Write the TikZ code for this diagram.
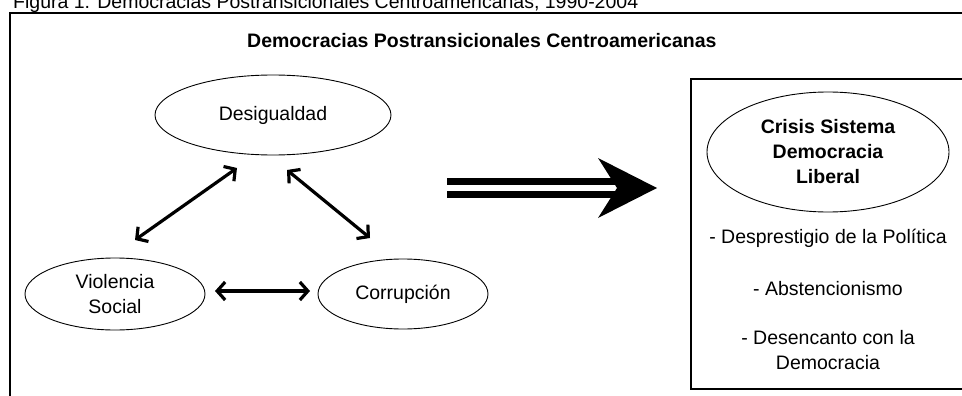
\documentclass[tikz,border=0pt]{standalone}
\usepackage{fontspec}
\setmainfont{Liberation Sans}
\usetikzlibrary{arrows.meta,shapes.geometric}
\begin{document}
\begin{tikzpicture}[x=1pt,y=-1pt,
  lbl/.style={font=\fontsize{19.5}{25}\selectfont,align=center,inner sep=0pt},
  ell/.style={draw,ellipse,line width=0.9pt,inner sep=0pt,lbl},
  dblarrow/.style={line width=3.2pt,{Straight Barb[length=8pt,width=18pt]}-{Straight Barb[length=8pt,width=18pt]}},
  frame/.style={line width=1.4pt}]
\useasboundingbox (0,0) rectangle (962,396);
\clip (0,0) rectangle (962,396);
% caption (cut at the top)
\node[lbl,anchor=base west] (cap) at (13,8.5) {Figura 1. Democracias Postransicionales Centroamericanas, 1990-2004};
% outer frame
\draw[frame] (10,400) -- (10,13) -- (970,13);
% title
\node[lbl,font=\fontsize{19.5}{25}\selectfont\bfseries,anchor=base west] (title) at (247,47.5) {Democracias Postransicionales Centroamericanas};
% ellipses
\node[ell,minimum width=236pt,minimum height=80pt] (des) at (273,115) {Desigualdad};
\node[ell,minimum width=180pt,minimum height=72pt] (vio) at (115,294) {Violencia\\Social};
\node[ell,minimum width=170pt,minimum height=70pt] (cor) at (403,294) {Corrupción};
% double arrows
\coordinate (a1s) at (135,240); \coordinate (a1e) at (237,168);
\coordinate (a2s) at (287,170); \coordinate (a2e) at (370,238);
\coordinate (a3s) at (215,291); \coordinate (a3e) at (310,291);
\draw[dblarrow] (a1s) -- (a1e);
\draw[dblarrow] (a2s) -- (a2e);
\draw[dblarrow] (a3s) -- (a3e);
% big arrow
\coordinate (bs) at (447,188); \coordinate (be) at (657,188);
\draw[line width=6.5pt] ([yshift=-6.5pt]bs) -- ++(170,0);
\draw[line width=6.5pt] ([yshift=6.5pt]bs) -- ++(170,0);
\fill (be) -- ++(-59,-30) -- ++(19,30) -- ++(-19,30) -- cycle;
% right box
\draw[line width=1.1pt] (970,79) -- (691,79) -- (691,389) -- (970,389);
\node[ell,minimum width=242pt,minimum height=120pt,font=\fontsize{19.5}{25}\selectfont\bfseries] (cri) at (828,152) {Crisis Sistema\\Democracia\\Liberal};
\node[lbl] (t1) at (828,238) {- Desprestigio de la Política};
\node[lbl] (t2) at (828,289) {- Abstencionismo};
\node[lbl] (t3) at (828,350) {- Desencanto con la\\Democracia};
\end{tikzpicture}
\end{document}
